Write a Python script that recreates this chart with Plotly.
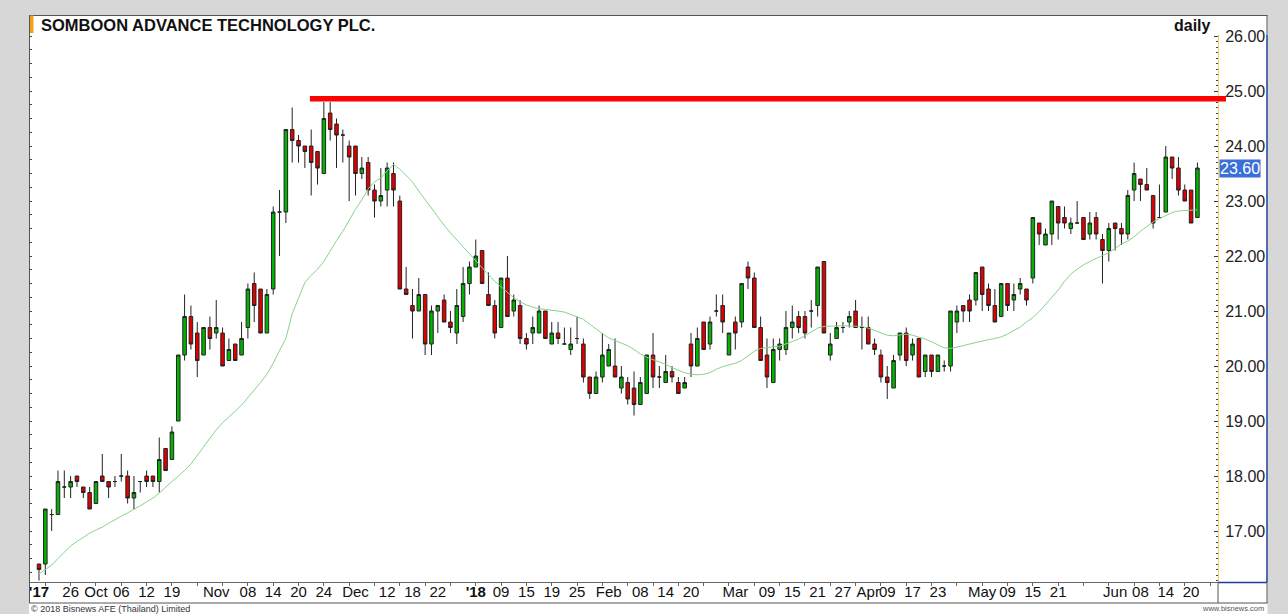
import plotly.graph_objects as go

# ---------------- data ----------------
opens = [
    16.4, 16.4, 17.3, 17.3, 17.8, 17.8, 18.0, 17.8, 17.7, 17.5,
    18.0, 17.9, 17.9, 18.0, 18.0, 17.6, 17.9, 18.0, 18.0, 17.9,
    18.5, 18.3, 19.0, 20.2, 20.9, 20.6, 20.2, 20.7, 20.6, 20.6,
    20.1, 20.4, 20.2, 20.7, 21.5, 21.4, 20.6, 21.4, 22.8, 22.8,
    24.3, 24.1, 24.0, 24.0, 23.9, 23.5, 24.6, 24.4, 24.2, 24.0,
    24.0, 23.5, 23.7, 23.2, 23.0, 23.2, 23.5, 23.0, 21.4, 21.1,
    21.0, 21.3, 20.4, 21.0, 21.2, 20.8, 20.6, 20.9, 21.5, 21.8,
    22.1, 21.3, 21.1, 20.7, 21.6, 21.0, 21.1, 20.5, 20.6, 20.6,
    21.0, 20.4, 20.6, 20.4, 20.3, 20.5, 20.4, 19.8, 19.5, 19.8,
    20.0, 20.0, 19.6, 19.7, 19.6, 19.3, 19.5, 20.2, 19.8, 19.7,
    19.9, 19.7, 19.6, 20.4, 20.0, 20.8, 20.4, 21.0, 21.1, 20.2,
    20.8, 20.8, 21.8, 21.6, 20.7, 20.2, 19.7, 20.3, 20.3, 20.7,
    20.9, 20.9, 21.0, 21.1, 21.9, 20.2, 20.5, 20.7, 20.8, 21.0,
    20.7, 20.7, 20.4, 20.2, 19.8, 19.6, 20.2, 20.6, 20.2, 20.5,
    19.9, 20.2, 19.9, 20.0, 20.0, 20.8, 21.1, 21.2, 21.2, 21.8,
    21.4, 21.1, 20.9, 21.5, 21.2, 21.4, 21.4, 21.6, 22.6, 22.2,
    22.4, 22.9, 22.7, 22.5, 22.6, 22.7, 22.4, 22.7, 22.3, 22.1,
    22.6, 22.5, 22.4, 23.2, 23.4, 23.3, 23.1, 22.7, 22.8, 23.8,
    23.6, 23.2, 23.2, 22.7,
]
highs = [
    16.4, 17.4, 17.4, 18.1, 18.1, 18.0, 18.0, 17.8, 17.8, 17.9,
    18.4, 17.9, 18.0, 18.4, 18.1, 18.0, 17.9, 18.1, 18.0, 18.7,
    18.5, 18.9, 20.2, 21.3, 21.1, 20.8, 20.7, 20.9, 21.2, 20.7,
    20.5, 20.4, 20.8, 21.5, 21.7, 21.4, 21.4, 22.9, 23.2, 24.3,
    24.7, 24.2, 24.0, 24.3, 23.9, 24.8, 24.8, 24.5, 24.3, 24.1,
    24.0, 23.8, 23.8, 23.3, 23.6, 23.7, 23.7, 23.1, 21.8, 21.4,
    21.6, 21.3, 21.1, 21.1, 21.3, 21.0, 21.4, 21.8, 21.9, 22.3,
    22.1, 21.7, 21.2, 21.6, 22.0, 21.3, 21.2, 20.6, 20.9, 21.1,
    21.0, 20.8, 20.8, 20.7, 20.7, 20.9, 20.5, 19.8, 19.9, 20.6,
    20.4, 20.5, 20.0, 19.8, 19.9, 19.8, 20.2, 20.6, 20.0, 20.2,
    20.0, 19.8, 19.8, 20.6, 20.7, 20.8, 20.9, 21.3, 21.3, 20.6,
    20.9, 21.5, 21.9, 21.7, 20.9, 20.5, 20.5, 20.5, 21.0, 21.1,
    21.0, 21.0, 21.2, 21.8, 21.9, 20.6, 20.8, 20.8, 21.0, 21.2,
    20.9, 20.9, 20.5, 20.3, 20.0, 20.2, 20.6, 20.7, 20.5, 20.5,
    20.2, 20.2, 20.2, 20.1, 21.0, 21.1, 21.1, 21.3, 21.7, 21.8,
    21.5, 21.4, 21.5, 21.5, 21.5, 21.6, 21.4, 22.7, 22.6, 22.5,
    23.0, 22.9, 22.9, 22.7, 23.0, 22.7, 22.8, 22.8, 22.4, 22.6,
    22.6, 22.6, 23.2, 23.7, 23.4, 23.6, 23.1, 23.3, 24.0, 23.8,
    23.8, 23.3, 23.2, 23.7,
]
lows = [
    16.1, 16.2, 17.0, 17.3, 17.6, 17.6, 17.8, 17.6, 17.4, 17.5,
    17.9, 17.6, 17.8, 17.9, 17.5, 17.4, 17.7, 17.8, 17.8, 17.7,
    18.1, 18.3, 19.0, 20.1, 20.3, 19.8, 20.2, 20.3, 20.5, 20.0,
    20.1, 20.1, 20.2, 20.5, 20.8, 20.6, 20.6, 21.3, 22.0, 22.6,
    23.7, 23.7, 23.6, 23.1, 23.3, 23.5, 24.1, 23.6, 23.7, 23.0,
    23.1, 23.4, 23.1, 22.7, 22.9, 22.9, 22.9, 21.4, 21.3, 20.5,
    21.0, 20.2, 20.2, 20.6, 20.8, 20.6, 20.4, 20.8, 21.3, 21.8,
    21.5, 21.1, 20.5, 20.7, 20.9, 20.9, 20.4, 20.3, 20.4, 20.6,
    20.5, 20.4, 20.4, 20.4, 20.2, 20.4, 19.7, 19.4, 19.5, 19.7,
    20.0, 19.8, 19.5, 19.3, 19.1, 19.3, 19.5, 19.6, 19.6, 19.7,
    19.7, 19.5, 19.6, 19.8, 20.0, 20.3, 20.3, 20.9, 20.6, 20.2,
    20.3, 20.7, 21.4, 20.7, 20.1, 19.6, 19.7, 20.1, 20.2, 20.5,
    20.6, 20.5, 20.7, 20.9, 20.6, 20.1, 20.5, 20.6, 20.7, 20.7,
    20.3, 20.4, 20.2, 19.7, 19.4, 19.6, 20.1, 20.0, 20.1, 19.8,
    19.8, 19.8, 19.9, 19.9, 19.9, 20.6, 20.8, 20.8, 21.1, 21.0,
    21.0, 20.8, 20.9, 21.0, 21.0, 21.3, 21.1, 21.5, 22.2, 22.2,
    22.2, 22.3, 22.5, 22.4, 22.6, 22.3, 22.3, 22.3, 21.5, 21.9,
    22.1, 22.2, 22.3, 23.0, 23.0, 23.2, 22.5, 22.7, 22.8, 23.4,
    23.1, 23.0, 22.6, 22.7,
]
closes = [
    16.3, 17.4, 17.3, 17.9, 17.8, 17.9, 17.9, 17.7, 17.4, 17.9,
    17.9, 17.8, 17.9, 18.0, 17.6, 17.7, 17.9, 17.9, 17.9, 18.3,
    18.1, 18.8, 20.2, 20.9, 20.4, 20.1, 20.7, 20.5, 20.7, 20.0,
    20.3, 20.1, 20.5, 21.4, 21.1, 20.6, 21.3, 22.8, 22.8, 24.3,
    24.1, 24.0, 23.9, 23.7, 23.6, 24.5, 24.3, 24.2, 24.2, 23.8,
    23.5, 23.6, 23.2, 23.0, 23.1, 23.6, 23.2, 21.4, 21.3, 21.0,
    21.3, 20.4, 21.0, 21.1, 20.8, 20.7, 21.1, 21.5, 21.8, 22.0,
    21.5, 21.1, 20.6, 21.6, 20.9, 21.2, 20.5, 20.4, 20.7, 21.0,
    20.5, 20.6, 20.5, 20.4, 20.4, 20.5, 19.8, 19.5, 19.8, 20.2,
    20.3, 19.8, 19.8, 19.4, 19.3, 19.7, 20.2, 19.8, 19.8, 19.9,
    19.8, 19.5, 19.7, 20.0, 20.5, 20.3, 20.8, 21.0, 20.8, 20.6,
    20.6, 21.5, 21.6, 20.7, 20.1, 19.8, 20.3, 20.4, 20.7, 20.8,
    20.7, 20.6, 21.0, 21.8, 20.6, 20.4, 20.7, 20.7, 20.9, 20.7,
    20.7, 20.4, 20.3, 19.8, 19.7, 20.1, 20.6, 20.1, 20.4, 19.8,
    20.2, 19.9, 20.2, 20.0, 21.0, 21.0, 21.0, 21.0, 21.7, 21.3,
    21.1, 20.8, 21.5, 21.1, 21.3, 21.5, 21.2, 22.7, 22.4, 22.4,
    23.0, 22.6, 22.6, 22.6, 22.6, 22.3, 22.6, 22.4, 22.1, 22.5,
    22.5, 22.4, 23.1, 23.5, 23.3, 23.2, 22.6, 22.7, 23.8, 23.6,
    23.2, 23.0, 22.6, 23.6,
]
ma_values = [
    16.22, 16.30, 16.38, 16.50, 16.62, 16.73, 16.81, 16.89, 16.96, 17.02,
    17.07, 17.14, 17.21, 17.27, 17.33, 17.39, 17.46, 17.53, 17.60, 17.69,
    17.80, 17.90, 18.00, 18.10, 18.22, 18.38, 18.54, 18.70, 18.84, 18.97,
    19.07, 19.18, 19.29, 19.42, 19.57, 19.70,
    19.85, 20.05, 20.28, 20.50, 20.95, 21.25, 21.52, 21.65, 21.76, 21.90,
    22.10, 22.28, 22.45, 22.65, 22.85, 23.02, 23.22, 23.35, 23.42, 23.55,
    23.66, 23.58, 23.47, 23.35, 23.18, 23.02, 22.87, 22.72, 22.56, 22.42,
    22.29, 22.16, 22.03, 21.91, 21.79, 21.66, 21.54, 21.44, 21.34, 21.24,
    21.17, 21.11, 21.07, 21.04, 21.03, 21.02, 21.00, 20.98, 20.94, 20.90,
    20.85, 20.76, 20.67, 20.59, 20.51, 20.46, 20.41, 20.37, 20.30, 20.22,
    20.16, 20.12, 20.07, 20.03,
    19.97, 19.92, 19.88, 19.85, 19.84, 19.85, 19.88, 19.94, 19.99, 20.02,
    20.05, 20.10, 20.18, 20.27, 20.32, 20.34, 20.35, 20.36, 20.40, 20.45,
    20.49, 20.55, 20.62, 20.69, 20.72, 20.73, 20.73, 20.73, 20.73, 20.72,
    20.72, 20.69, 20.65, 20.61, 20.56, 20.55, 20.57, 20.58, 20.56, 20.53,
    20.49, 20.44, 20.39, 20.33, 20.32, 20.34, 20.37, 20.40, 20.43, 20.46,
    20.48, 20.50, 20.53, 20.58, 20.64, 20.71, 20.80, 20.88, 20.99, 21.12,
    21.23, 21.38, 21.54, 21.67, 21.76, 21.84, 21.90, 21.96, 22.01, 22.06,
    22.14, 22.22, 22.27, 22.35, 22.45, 22.54, 22.62, 22.68, 22.74, 22.79,
    22.82, 22.83, 22.84, 22.84,
]
tick_idx = [0, 5, 9, 13, 17, 21, 28, 33, 37, 41, 45, 50, 55, 59, 63,
            69, 73, 77, 81, 85, 90, 95, 99, 103, 110, 115, 119, 123, 127,
            131, 134, 138, 142, 149, 153, 157, 161, 170, 174, 178, 182]
tick_text = ["<b>'17</b>", "26", "Oct", "06", "12", "19", "Nov", "08", "14", "20", "24",
             "Dec", "12", "18", "22", "<b>'18</b>", "09", "15", "19", "25",
             "Feb", "08", "14", "20", "Mar", "09", "15", "21", "27",
             "Apr", "09", "17", "23", "May", "09", "15", "21", "Jun", "08", "14", "20"]
title_text = "SOMBOON ADVANCE TECHNOLOGY PLC."
period_text = "daily"
last_price = 23.60
resistance_level = 24.86
resistance_start = 42.8

# ---------------- geometry ----------------
W, H = 1288, 614
ML, MR, MT, MB = 30, 70, 35, 32
PW = W - ML - MR
PH = H - MT - MB
X_MIN, X_MAX = -1.42, 186.25
Y_MIN, Y_MAX = 16.073, 26.019
FONT = "Arial, 'Liberation Sans', sans-serif"


def px(x):
    return (x - ML) / PW


def py(y):
    return (H - MB - y) / PH


N = len(closes)
xs = list(range(N))

fig = go.Figure()
fig.add_trace(go.Scatter(x=xs, y=ma_values, mode="lines",
                         line=dict(color="#8ad28a", width=1),
                         hoverinfo="skip", showlegend=False))
fig.add_trace(go.Candlestick(
    x=xs, open=opens, high=highs, low=lows, close=closes,
    increasing=dict(fillcolor="#00b400", line=dict(color="#222222", width=1)),
    decreasing=dict(fillcolor="#e00000", line=dict(color="#222222", width=1)),
    whiskerwidth=0, showlegend=False))
fig.add_trace(go.Scatter(x=[], y=[], yaxis="y2", showlegend=False, hoverinfo="skip"))

grey = "#555555"
shapes = [
    dict(type="rect", xref="paper", yref="paper", x0=px(29), x1=px(1267.5),
         y0=py(620), y1=py(15), fillcolor="white", line=dict(width=0), layer="below"),
    dict(type="line", xref="paper", yref="paper", x0=px(29), x1=px(1267.5),
         y0=py(15.5), y1=py(15.5), line=dict(color=grey, width=1)),
    dict(type="line", xref="paper", yref="paper", x0=px(29.5), x1=px(29.5),
         y0=py(15), y1=py(603), line=dict(color=grey, width=1)),
    dict(type="line", xref="paper", yref="paper", x0=px(1267), x1=px(1267),
         y0=py(15), y1=py(35), line=dict(color=grey, width=1)),
    dict(type="line", xref="paper", yref="paper", x0=px(1267), x1=px(1267),
         y0=py(35), y1=py(582.5), line=dict(color="#1f3c9a", width=1.5)),
    dict(type="line", xref="paper", yref="paper", x0=px(1218), x1=px(1267),
         y0=py(582.5), y1=py(582.5), line=dict(color="#1f3c9a", width=1.5)),
    dict(type="line", xref="paper", yref="paper", x0=px(1267), x1=px(1267),
         y0=py(582.5), y1=py(603), line=dict(color=grey, width=1)),
    dict(type="line", xref="paper", yref="paper", x0=px(29), x1=px(1267.5),
         y0=py(603), y1=py(603), line=dict(color=grey, width=1)),
    dict(type="line", xref="paper", yref="paper", x0=px(1218), x1=px(1218),
         y0=py(582), y1=py(603), line=dict(color=grey, width=1)),
    dict(type="rect", xref="paper", yref="paper", x0=px(30), x1=px(33.5),
         y0=py(33), y1=py(15.5), fillcolor="#f5a01a", line=dict(width=0)),
    dict(type="line", xref="paper", yref="paper",
         x0=(resistance_start - X_MIN) / (X_MAX - X_MIN), x1=px(1226),
         y0=(resistance_level - Y_MIN) / (Y_MAX - Y_MIN),
         y1=(resistance_level - Y_MIN) / (Y_MAX - Y_MIN),
         line=dict(color="#ff0000", width=5.5)),
]

annotations = [
    dict(xref="paper", yref="paper", x=px(39), y=py(25), xanchor="left", yanchor="middle",
         text="<b>%s</b>" % title_text, showarrow=False,
         font=dict(family=FONT, size=16.5, color="#111111")),
    dict(xref="paper", yref="paper", x=px(1213), y=py(25), xanchor="right", yanchor="middle",
         text="<b>%s</b>" % period_text, showarrow=False,
         font=dict(family=FONT, size=16, color="#111111")),
    dict(xref="paper", yref="y", x=px(1219), y=last_price, xanchor="left", yanchor="middle",
         text="%.2f" % last_price, showarrow=False, bgcolor="#3a6fd8", borderpad=0,
         font=dict(family=FONT, size=16, color="white")),
    dict(xref="paper", yref="paper", x=px(29), y=py(608.5), xanchor="left", yanchor="middle",
         text="\u00a9 2018 Bisnews AFE (Thailand) Limited", showarrow=False,
         font=dict(family=FONT, size=9, color="#333333")),
    dict(xref="paper", yref="paper", x=px(1266), y=py(608.5), xanchor="right", yanchor="middle",
         text="www.bisnews.com", showarrow=False,
         font=dict(family=FONT, size=7.5, color="#555555")),
]

fig.update_layout(
    width=W, height=H,
    margin=dict(l=ML, r=MR, t=MT, b=MB, pad=0, autoexpand=False),
    paper_bgcolor="#d7d7d7", plot_bgcolor="white",
    showlegend=False, boxgap=0.2,
    font=dict(family=FONT, color="#111111"),
    shapes=shapes, annotations=annotations,
    xaxis=dict(range=[X_MIN, X_MAX], rangeslider=dict(visible=False), automargin=False,
               showgrid=False, zeroline=False, showline=True, linecolor="#666666",
               linewidth=1, tickmode="array", tickvals=tick_idx, ticktext=tick_text,
               tickangle=0, ticks="outside", ticklen=3, tickcolor="rgba(0,0,0,0)",
               ticklabelstandoff=-7,
               minor=dict(ticks="outside", ticklen=3, dtick=4, tick0=1, tickcolor="#666666"),
               tickfont=dict(family=FONT, size=15, color="#111111")),
    yaxis=dict(range=[Y_MIN, Y_MAX], side="right", tick0=0, dtick=1, tickformat=".2f",
               automargin=False, ticks="inside", ticklen=4, tickcolor="#333333",
               ticklabelstandoff=3,
               showline=True, linecolor="#f2d060", linewidth=1,
               showgrid=False, zeroline=False,
               tickfont=dict(family=FONT, size=16, color="#222222"),
               minor=dict(ticks="inside", ticklen=2, dtick=0.1, tick0=0, tickcolor="#444444")),
    yaxis2=dict(range=[Y_MIN, Y_MAX], overlaying="y", side="left", showline=True,
                automargin=False, linecolor=grey, linewidth=1, ticks="inside", ticklen=2,
                tick0=0, dtick=0.25, tickcolor="#444444", showticklabels=False,
                showgrid=False, zeroline=False),
)

fig.write_html("out.html",
               config={"displayModeBar": False},
               post_script="document.body.style.margin='0px';"
                           "document.body.style.overflow='hidden';"
                           "document.body.style.background='#d7d7d7';")
